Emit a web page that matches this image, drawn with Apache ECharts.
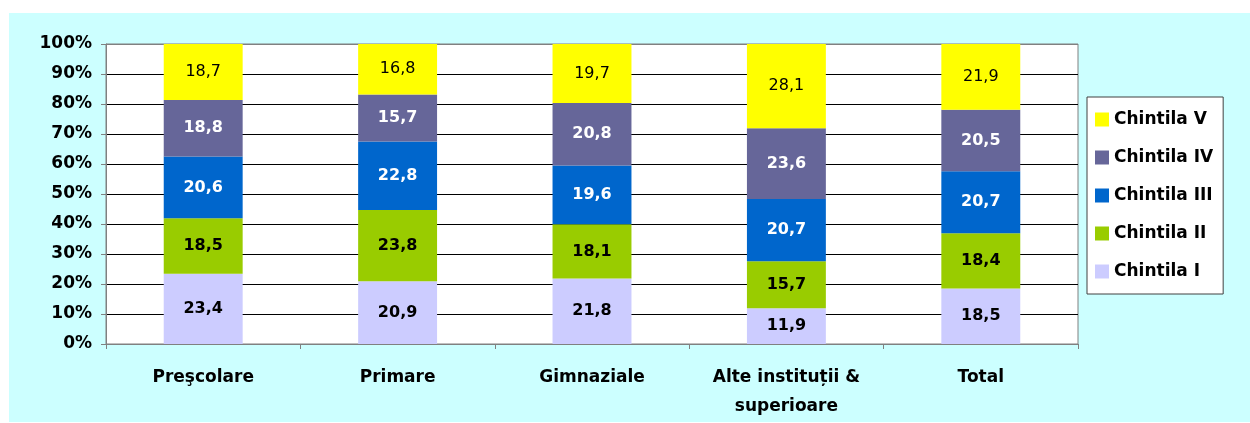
<!DOCTYPE html>
<html>
<head>
<meta charset="utf-8">
<script src="https://cdn.jsdelivr.net/npm/echarts@6/dist/echarts.min.js"></script>
<style>
  html, body { margin: 0; padding: 0; background: #fff; }
  #chart { width: 1250px; height: 423px; }
</style>
</head>
<body>
<div id="chart"></div>
<script>
  // categorii (nivel de educatie)
  var categories = ['Preşcolare', 'Primare', 'Gimnaziale', 'Alte instituții &\nsuperioare', 'Total']
  // procente pe chintile
  var chintila1 = [23.4, 20.9, 21.8, 11.9, 18.5]
  var chintila2 = [18.5, 23.8, 18.1, 15.7, 18.4]
  var chintila3 = [20.6, 22.8, 19.6, 20.7, 20.7]
  var chintila4 = [18.8, 15.7, 20.8, 23.6, 20.5]
  var chintila5 = [18.7, 16.8, 19.7, 28.1, 21.9]
  var seriesNames = ['Chintila I', 'Chintila II', 'Chintila III', 'Chintila IV', 'Chintila V']

  var font = 'DejaVu Sans'
  var fmt = function (p) {
    return p.value.toFixed(1).replace('.', ',')
  }

  function bar (name, data, color, labelColor, bold) {
    return {
      name: name,
      type: 'bar',
      stack: 'total',
      barWidth: '40.6%',
      data: data,
      itemStyle: { color: color },
      label: {
        show: true,
        position: 'inside',
        formatter: fmt,
        color: labelColor,
        fontFamily: font,
        fontSize: 16,
        fontWeight: bold ? 'bold' : 'normal'
      }
    }
  }

  var chart = echarts.init(document.getElementById('chart'))
  var option = {
    animation: false,
    backgroundColor: '#fff',
    graphic: [{
      type: 'rect',
      z: -10,
      silent: true,
      shape: { x: 9, y: 13, width: 1241, height: 409 },
      style: { fill: '#CCFFFF' }
    }],
    grid: {
      left: 106,
      right: 172,
      top: 44,
      bottom: 79,
      show: true,
      backgroundColor: '#fff',
      borderColor: '#808080',
      borderWidth: 1
    },
    legend: {
      orient: 'vertical',
      left: 1087,
      top: 97,
      padding: [14, 10, 14, 8],
      backgroundColor: '#fff',
      borderColor: '#404040',
      borderWidth: 1,
      itemWidth: 14,
      itemHeight: 14,
      itemGap: 21,
      icon: 'rect',
      data: ['Chintila V', 'Chintila IV', 'Chintila III', 'Chintila II', 'Chintila I'],
      textStyle: {
        fontFamily: font,
        fontSize: 17,
        fontWeight: 'bold',
        color: '#000'
      }
    },
    xAxis: {
      type: 'category',
      data: categories,
      axisLine: { lineStyle: { color: '#808080' } },
      axisTick: { show: true, length: 5, lineStyle: { color: '#808080' } },
      axisLabel: {
        margin: 19,
        interval: 0,
        fontFamily: font,
        fontSize: 17,
        fontWeight: 'bold',
        color: '#000',
        lineHeight: 29
      }
    },
    yAxis: {
      type: 'value',
      min: 0,
      max: 100,
      interval: 10,
      axisLine: { show: true, lineStyle: { color: '#808080' } },
      axisTick: { show: true, length: 5, lineStyle: { color: '#808080' } },
      axisLabel: {
        margin: 14,
        formatter: '{value}%',
        fontFamily: font,
        fontSize: 17,
        fontWeight: 'bold',
        color: '#000'
      },
      splitLine: {
        lineStyle: {
          color: ['#808080', '#000', '#000', '#000', '#000', '#000', '#000', '#000', '#000', '#000', '#808080'],
          width: 1
        }
      }
    },
    series: [
      bar(seriesNames[0], chintila1, '#CCCCFF', '#000', true),
      bar(seriesNames[1], chintila2, '#99CC00', '#000', true),
      bar(seriesNames[2], chintila3, '#0066CC', '#fff', true),
      bar(seriesNames[3], chintila4, '#666699', '#fff', true),
      bar(seriesNames[4], chintila5, '#FFFF00', '#000', false)
    ]
  }
  chart.setOption(option)
</script>
</body>
</html>
